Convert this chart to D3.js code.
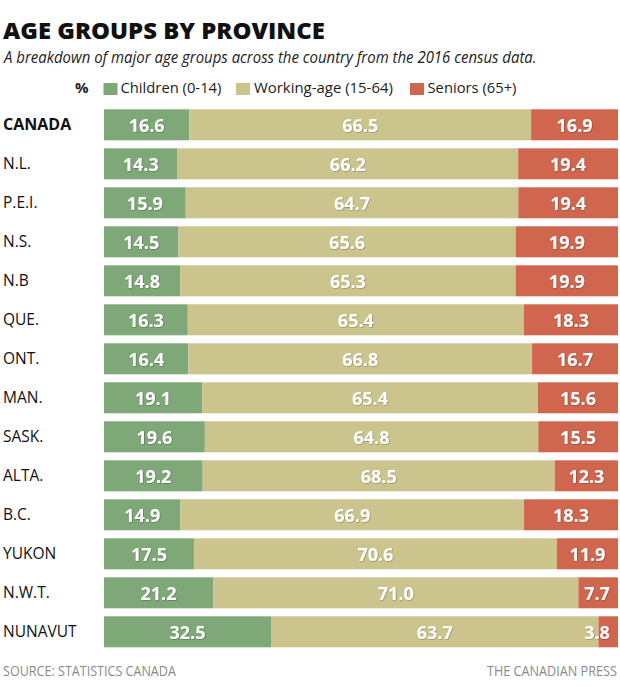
<!DOCTYPE html>
<html>
<head>
<meta charset="utf-8">
<script src="https://cdn.jsdelivr.net/npm/d3@7"></script>
<style>
  html, body { margin: 0; padding: 0; background: #ffffff; }
  svg { display: block; font-family: "Open Sans", "Noto Sans", sans-serif; }
</style>
</head>
<body>
<svg id="chart" width="620" height="687"></svg>
<script>
// ---- data ----
const provinces = ["CANADA","N.L.","P.E.I.","N.S.","N.B","QUE.","ONT.","MAN.","SASK.","ALTA.","B.C.","YUKON","N.W.T.","NUNAVUT"];
const children   = [16.6, 14.3, 15.9, 14.5, 14.8, 16.3, 16.4, 19.1, 19.6, 19.2, 14.9, 17.5, 21.2, 32.5];
const workingAge = [66.5, 66.2, 64.7, 65.6, 65.3, 65.4, 66.8, 65.4, 64.8, 68.5, 66.9, 70.6, 71.0, 63.7];
const seniors    = [16.9, 19.4, 19.4, 19.9, 19.9, 18.3, 16.7, 15.6, 15.5, 12.3, 18.3, 11.9, 7.7, 3.8];
const seriesKeys   = ["children", "working", "seniors"];
const seriesLabels = ["Children (0-14)", "Working-age (15-64)", "Seniors (65+)"];
const seriesColors = ["#7ea878", "#cbc48d", "#d1664f"];

const rows = provinces.map((p, i) => ({ name: p, children: children[i], working: workingAge[i], seniors: seniors[i] }));

const svg = d3.select("#chart");

const defs = svg.append("defs");
const f = defs.append("filter").attr("id", "shadow").attr("x", "-20%").attr("y", "-20%").attr("width", "140%").attr("height", "140%");
f.append("feDropShadow").attr("dx", 0.6).attr("dy", 0.6).attr("stdDeviation", 0.7)
  .attr("flood-color", "#000").attr("flood-opacity", 0.35);

// helper: squeeze a text horizontally to a target width using a transform
function fitText(sel, x0, y0, targetW) {
  const w = sel.node().getComputedTextLength();
  const k = w > 0 ? targetW / w : 1;
  sel.attr("x", 0).attr("y", 0).attr("transform", `translate(${x0},${y0}) scale(${k},1)`);
}

// ---- title / subtitle ----
fitText(svg.append("text")
  .attr("font-size", 22).attr("font-weight", 800).attr("fill", "#111")
  .text("AGE GROUPS BY PROVINCE"), 3, 38.5, 322);

fitText(svg.append("text")
  .attr("font-size", 16).attr("font-style", "italic").attr("fill", "#222")
  .text("A breakdown of major age groups across the country from the 2016 census data."), 4, 63.3, 533);

// ---- legend ----
const legY = 93.3;
svg.append("text").attr("x", 75).attr("y", legY).attr("font-size", 15).attr("font-weight", 700).attr("fill", "#222").text("%");
const legendItems = [
  { sx: 103.5, tx: 120.5, tw: 101 },
  { sx: 236, tx: 254, tw: 139 },
  { sx: 410, tx: 427.5, tw: 89 }
];
legendItems.forEach((d, i) => {
  svg.append("rect").attr("x", d.sx).attr("y", 83).attr("width", 14).attr("height", 12).attr("fill", seriesColors[i]);
  fitText(svg.append("text").attr("font-size", 15).attr("fill", "#222").text(seriesLabels[i]), d.tx, legY, d.tw);
});

// ---- scales ----
const x = d3.scaleLinear().domain([0, 1]).range([104, 618]);
const y = d3.scaleBand().domain(provinces).range([109.3, 647.3]).paddingInner(8 / 39).paddingOuter(0);
const color = d3.scaleOrdinal().domain(seriesKeys).range(seriesColors);

const stack = d3.stack().keys(seriesKeys).offset(d3.stackOffsetExpand);
const stacked = stack(rows);

// ---- bars ----
const layers = svg.append("g").selectAll("g").data(stacked).join("g").attr("fill", d => color(d.key));
layers.selectAll("rect").data(d => d).join("rect")
  .attr("x", d => x(d[0]))
  .attr("y", d => y(d.data.name))
  .attr("width", d => x(d[1]) - x(d[0]))
  .attr("height", y.bandwidth());

// ---- value labels ----
const labelG = svg.append("g").attr("font-size", 18).attr("font-weight", 700).attr("fill", "#fff")
  .attr("text-anchor", "middle").attr("filter", "url(#shadow)");
stacked.forEach(layer => {
  layer.forEach(d => {
    const v = d.data[layer.key];
    let cx = (x(d[0]) + x(d[1])) / 2;
    cx = Math.min(cx, x(1) - 21);
    labelG.append("text")
      .attr("x", cx)
      .attr("y", y(d.data.name) + y.bandwidth() / 2 + 6.8)
      .text(v.toFixed(1));
  });
});

// ---- row labels ----
svg.append("g").selectAll("text").data(provinces).join("text")
  .attr("x", 3)
  .attr("y", d => y(d) + y.bandwidth() / 2 + 5.6)
  .attr("font-size", d => d === "CANADA" ? 16 : 15.5)
  .attr("font-weight", d => d === "CANADA" ? 700 : 400)
  .attr("fill", "#111")
  .text(d => d);

// ---- footer ----
fitText(svg.append("text").attr("font-size", 15).attr("fill", "#8a8a8a")
  .text("SOURCE: STATISTICS CANADA"), 3, 676, 173);
fitText(svg.append("text").attr("font-size", 15).attr("fill", "#8a8a8a")
  .text("THE CANADIAN PRESS"), 487, 675.5, 130);
</script>
</body>
</html>
